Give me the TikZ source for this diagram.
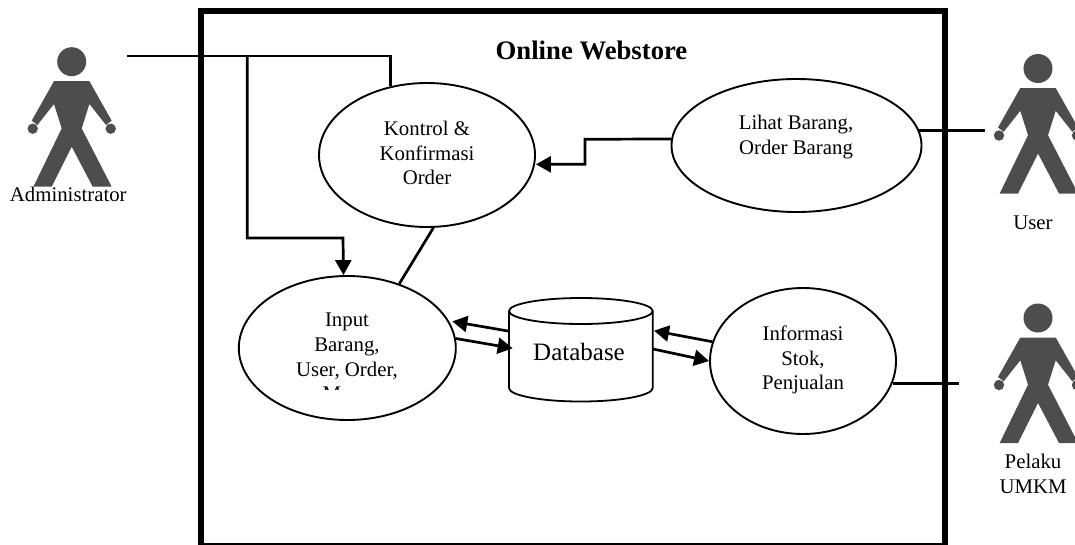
\documentclass[tikz,border=0pt]{standalone}
\usepackage{fontspec}
\setmainfont{Liberation Serif}
\usetikzlibrary{arrows.meta,shapes.geometric}
\definecolor{figgrey}{HTML}{4D4D4D}
\tikzset{
  frameline/.style={line width=5.7pt,black},
  conn/.style={line width=2.7pt,black,line join=miter},
  arrowed/.style={conn,-{Triangle[length=15pt,width=16pt]}},
  usecase/.style={ellipse,draw=black,line width=1.9pt,inner sep=0pt},
  dbline/.style={line width=1.8pt,black},
  lbl/.style={align=center,inner sep=0pt,text=black,font=\fontsize{20.8}{24.6}\selectfont},
  person/.pic={
    \fill[figgrey] (0,0) circle (14.5);
    \fill[figgrey] (-17.7,19.5) -- (17.7,19.5) -- (40,59) -- (34.3,63.3) -- (17.7,42.3) -- (10,66.7)
      -- (40,125) -- (21,125) -- (0,85) -- (-20,125) -- (-38.3,125) -- (-10,66.7) -- (-17.7,42.3)
      -- (-34.3,63.3) -- (-40,59) -- cycle;
    \fill[figgrey] (-39,67) circle (5.2);
    \fill[figgrey] (39,67) circle (5.2);
  }
}
\begin{document}
\begin{tikzpicture}[x=1pt,y=-1pt]
\useasboundingbox (0,0) rectangle (1075,544);
% frame
\draw[frameline] (201,546) -- (201,11) -- (945,11) -- (945,546) -- cycle;
% actors
\pic at (71.7,61.7) {person};
\pic at (1038,68.5) {person};
\pic at (1038,318) {person};
% use cases
\node[usecase,minimum width=216pt,minimum height=144pt] (kontrol) at (427,155) {};
\node[usecase,minimum width=250pt,minimum height=133pt] (lihat) at (796.5,145.5) {};
\node[usecase,minimum width=217pt,minimum height=144pt] (input) at (347.3,348) {};
\node[usecase,minimum width=186pt,minimum height=146pt] (info) at (803,361) {};
% database
\draw[dbline,fill=white] (509,311) -- (509,388) arc[start angle=180,end angle=0,x radius=71.85,y radius=13.5]
  -- (652.7,311);
\draw[dbline] (580.85,311) ellipse[x radius=71.85,y radius=13];
\node[inner sep=0pt,font=\fontsize{25}{30}\selectfont] (db) at (579,352) {Database};
% labels
\node[inner sep=0pt,font=\bfseries\fontsize{26.7}{30}\selectfont] (title) at (591.5,50) {Online Webstore};
\node[lbl] (kontrollbl) at (427,153) {Kontrol \&\\Konfirmasi\\Order};
\node[lbl] (lihatlbl) at (796,137) {Lihat Barang,\\Order Barang};
\node[lbl] (infolbl) at (803,360) {Informasi\\Stok,\\Penjualan};
\begin{scope}
\clip (240,300) rectangle (455,389);
\node[lbl] (inputlbl) at (347,357) {Input\\Barang,\\User, Order,\\Menu};
\end{scope}
\node[lbl] (adminlbl) at (68.3,194) {Administrator};
\node[lbl] (userlbl) at (1033,223) {User};
\node[lbl] (pelakulbl) at (1033,474) {Pelaku\\UMKM};
% free ends
\coordinate (adminEnd) at (127,56);
\coordinate (branch) at (247.3,56);
\coordinate (userEnd) at (985,129.3);
\coordinate (pelakuEnd) at (959,384);
\coordinate (dbInA) at (512.7,348.3);
\coordinate (dbOutA) at (508,331);
\coordinate (dbInB) at (654,330.7);
\coordinate (dbOutB) at (653,349);
% connectors
\draw[conn] (adminEnd) -| (kontrol.118);
\draw[arrowed] (branch) |- (343,238) -- (input.93);
\draw[conn] (kontrol.-85) -- (input.51.5);
\draw[arrowed] (lihat.177.2) -- (585,139.3) -- (585,164.3) -- (kontrol.east |- 0,164.3);
\draw[conn] (lihat.7.6) -- (lihat.7.6 -| userEnd);
\draw[conn] (info.-14.6) -- (info.-14.6 -| pelakuEnd);
\draw[arrowed,shorten >=3.5pt] (dbOutA) -- (input.15);
\draw[arrowed] (input.5.4) -- (dbInA);
\draw[arrowed] (info.168.4) -- (dbInB);
\draw[arrowed] (dbOutB) -- (info.west);
\end{tikzpicture}
\end{document}
